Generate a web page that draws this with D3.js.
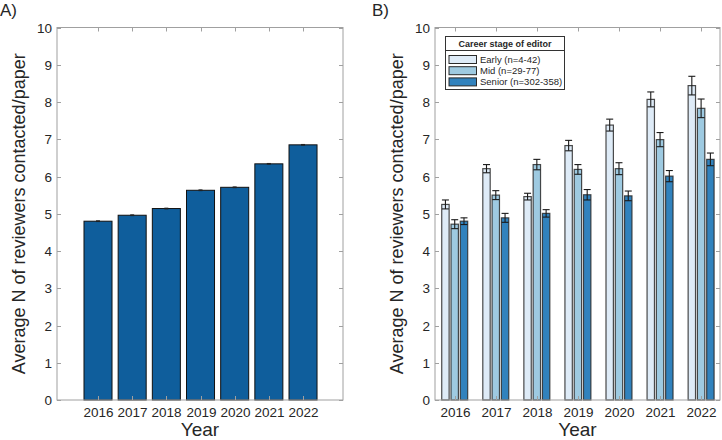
<!DOCTYPE html>
<html><head><meta charset="utf-8">
<script src="https://cdn.jsdelivr.net/npm/d3@7"></script>
<style>body{margin:0;background:#fff}svg{display:block;font-family:"Liberation Sans",Arial,Helvetica,sans-serif}</style>
</head><body><svg id="c" width="722" height="440"></svg>
<script>
const years = [2016, 2017, 2018, 2019, 2020, 2021, 2022];
const yTicks = [0,1,2,3,4,5,6,7,8,9,10];
// Panel A
const overallMean = [4.80, 4.96, 5.14, 5.63, 5.71, 6.34, 6.85];
const overallErr  = [0.01, 0.01, 0.01, 0.01, 0.01, 0.01, 0.01];
// Panel B
const stages = ["Early (n=4-42)", "Mid (n=29-77)", "Senior (n=302-358)"];
const earlyMean  = [5.25, 6.21, 5.46, 6.83, 7.38, 8.07, 8.44];
const earlyErr   = [0.12, 0.11, 0.09, 0.14, 0.16, 0.20, 0.25];
const midMean    = [4.72, 5.50, 6.32, 6.19, 6.21, 6.99, 7.83];
const midErr     = [0.12, 0.12, 0.14, 0.13, 0.16, 0.19, 0.25];
const seniorMean = [4.80, 4.89, 5.01, 5.51, 5.48, 6.01, 6.46];
const seniorErr  = [0.09, 0.12, 0.10, 0.14, 0.13, 0.15, 0.17];
const stageColors = ["#deebf7", "#9ecae1", "#3182bd"];

const svg = d3.select("#c");
const axisCol = "#a0a0a0", textCol = "#262626";

function frame(g, x, y, x0, x1, y0, y1, xTickVals, labelX) {
  g.append("rect").attr("x", x0).attr("y", y1).attr("width", x1 - x0).attr("height", y0 - y1)
    .attr("fill", "none").attr("stroke", axisCol).attr("stroke-width", 1);
  const tl = 4;
  yTicks.forEach(t => {
    const yy = Math.round(y(t)) + 0.5;
    g.append("line").attr("x1", x0).attr("x2", x0 + tl).attr("y1", yy).attr("y2", yy).attr("stroke", axisCol);
    g.append("line").attr("x1", x1).attr("x2", x1 - tl).attr("y1", yy).attr("y2", yy).attr("stroke", axisCol);
    g.append("text").attr("x", x0 - 5).attr("y", yy).attr("dy", "0.35em").attr("text-anchor", "end")
      .attr("font-size", 13.5).attr("fill", textCol).text(t);
  });
  xTickVals.forEach(t => {
    const xx = Math.round(x(t)) + 0.5;
    g.append("line").attr("x1", xx).attr("x2", xx).attr("y1", y1).attr("y2", y1 + tl).attr("stroke", axisCol);
    g.append("line").attr("x1", xx).attr("x2", xx).attr("y1", y0).attr("y2", y0 - tl).attr("stroke", axisCol);
    g.append("text").attr("x", xx).attr("y", 417).attr("text-anchor", "middle")
      .attr("font-size", 13.5).attr("fill", textCol).text(t);
  });
  g.append("text").attr("x", (x0 + x1) / 2).attr("y", 436).attr("text-anchor", "middle")
    .attr("font-size", 19).attr("fill", textCol).text("Year");
  g.append("text").attr("transform", `translate(${labelX},${(y0 + y1) / 2}) rotate(-90)`)
    .attr("text-anchor", "middle").attr("font-size", 18).attr("fill", textCol)
    .text("Average N of reviewers contacted/paper");
}

// ---------- Panel A ----------
{
  const x0 = 57, x1 = 343, yb = 400, yt = 27.5;
  const x = d3.scaleLinear().domain([2014.8, 2023.17]).range([x0, x1]);
  const y = d3.scaleLinear().domain([0, 10]).range([yb, yt]);
  const g = svg.append("g");
  const bw = 0.82;
  g.selectAll("rect.bar").data(years).join("rect").attr("class", "bar")
    .attr("x", (d) => x(d - bw / 2)).attr("width", (d) => x(d + bw / 2) - x(d - bw / 2))
    .attr("y", (d, i) => y(overallMean[i])).attr("height", (d, i) => yb - y(overallMean[i]))
    .attr("fill", "#0f5e9c").attr("stroke", "#111").attr("stroke-width", 1);
  years.forEach((d, i) => {
    const cx = x(d), top = y(overallMean[i] + overallErr[i]), bot = y(overallMean[i] - overallErr[i]);
    g.append("line").attr("x1", cx).attr("x2", cx).attr("y1", top).attr("y2", bot).attr("stroke", "#222");
    g.append("line").attr("x1", cx - 2).attr("x2", cx + 2).attr("y1", top).attr("y2", top).attr("stroke", "#222");
    g.append("line").attr("x1", cx - 2).attr("x2", cx + 2).attr("y1", bot).attr("y2", bot).attr("stroke", "#222");
  });
  frame(g, x, y, x0, x1, yb, yt, years, 25);
  svg.append("text").attr("x", 0).attr("y", 16).attr("font-size", 17).attr("fill", textCol).text("A)");
}

// ---------- Panel B ----------
{
  const x0 = 435, x1 = 720, yb = 400, yt = 27.5;
  const x = d3.scaleLinear().domain([2015.52, 2022.46]).range([x0, x1]);
  const y = d3.scaleLinear().domain([0, 10]).range([yb, yt]);
  const g = svg.append("g");
  const series = [
    { m: earlyMean, e: earlyErr, c: stageColors[0], off: -0.226 },
    { m: midMean, e: midErr, c: stageColors[1], off: 0 },
    { m: seniorMean, e: seniorErr, c: stageColors[2], off: 0.226 }
  ];
  const bw = 0.18;
  series.forEach(s => {
    g.selectAll(null).data(years).join("rect")
      .attr("x", d => x(d + s.off - bw / 2)).attr("width", d => x(d + s.off + bw / 2) - x(d + s.off - bw / 2))
      .attr("y", (d, i) => y(s.m[i])).attr("height", (d, i) => yb - y(s.m[i]))
      .attr("fill", s.c).attr("stroke", "#2a2a2a").attr("stroke-opacity", 0.85).attr("stroke-width", 1.2);
  });
  series.forEach(s => {
    years.forEach((d, i) => {
      const cx = x(d + s.off), top = y(s.m[i] + s.e[i]), bot = y(s.m[i] - s.e[i]);
      const cw = 3.5;
      g.append("line").attr("x1", cx).attr("x2", cx).attr("y1", top).attr("y2", bot).attr("stroke", "#1a1a1a").attr("stroke-width", 1.1);
      g.append("line").attr("x1", cx - cw).attr("x2", cx + cw).attr("y1", top).attr("y2", top).attr("stroke", "#1a1a1a").attr("stroke-width", 1.1);
      g.append("line").attr("x1", cx - cw).attr("x2", cx + cw).attr("y1", bot).attr("y2", bot).attr("stroke", "#1a1a1a").attr("stroke-width", 1.1);
    });
  });
  frame(g, x, y, x0, x1, yb, yt, years, 403);
  svg.append("text").attr("x", 372).attr("y", 16).attr("font-size", 17).attr("fill", textCol).text("B)");

  // legend
  const lg = svg.append("g");
  const lx = 445.5, ly = 36.5, lw = 119, lh = 53;
  lg.append("rect").attr("x", lx).attr("y", ly).attr("width", lw).attr("height", lh)
    .attr("fill", "#fff").attr("stroke", "#333").attr("stroke-width", 1);
  lg.append("line").attr("x1", lx).attr("x2", lx + lw).attr("y1", ly + 14).attr("y2", ly + 14).attr("stroke", "#333");
  lg.append("text").attr("x", lx + lw / 2).attr("y", ly + 10.5).attr("text-anchor", "middle")
    .attr("font-size", 9).attr("font-weight", "bold").attr("fill", textCol).text("Career stage of editor");
  stages.forEach((s, i) => {
    const cy = ly + 23 + i * 11.2;
    lg.append("rect").attr("x", lx + 3.5).attr("y", cy - 4).attr("width", 27.5).attr("height", 8)
      .attr("fill", stageColors[i]).attr("stroke", "#2a2a2a").attr("stroke-width", 1);
    lg.append("text").attr("x", lx + 34.5).attr("y", cy).attr("dy", "0.35em")
      .attr("font-size", 9.5).attr("fill", textCol).text(s);
  });
}
</script></body></html>
